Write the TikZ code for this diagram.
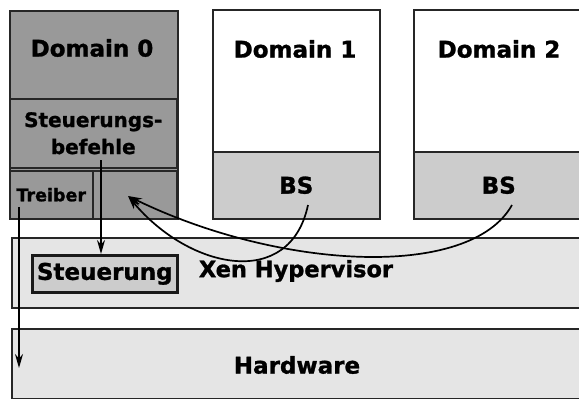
\documentclass[tikz,border=0pt]{standalone}
\usepackage{fontspec}
\setmainfont[BoldFeatures={FakeBold=1.2}]{DejaVu Sans}
\usetikzlibrary{arrows.meta}
\begin{document}
\begin{tikzpicture}[x=1pt,y=-1pt,
  box/.style={draw=black!85,line width=1.5pt,inner sep=0pt,anchor=north west},
  gross/.style={font=\bfseries\fontsize{23}{27}\selectfont},
  pfeil/.style={line width=1.7pt,-{Stealth[length=14pt,width=8pt]}}]
  \useasboundingbox (0,0) rectangle (579,399);

  % domain 0
  \node[box,fill=black!40,line width=1.9pt,minimum width=168,minimum height=208] (d0) at (9,10) {};
  \node[box,fill=black!40,minimum width=167,minimum height=69,
        font=\bfseries\fontsize{20}{27}\selectfont,align=center] (sb) at (9,98) {Steuerungs-\\befehle};
  \node[box,fill=black!40,minimum width=83,minimum height=48,
        font=\bfseries\fontsize{17.5}{20}\selectfont] (tr) at (9,170) {Treiber};
  \node[box,fill=black!40,minimum width=84,minimum height=48] (frei) at (92,170) {};
  \node[gross] (t0) at (92,48) {Domain 0};

  % domain 1 and 2
  \node[box,fill=white,minimum width=167,minimum height=209] (d1) at (212,9) {};
  \node[box,fill=black!20,minimum width=167,minimum height=67,gross] (bs1) at (212,151) {BS};
  \node[gross] (t1) at (295,49) {Domain 1};

  \node[box,fill=white,minimum width=170,minimum height=209] (d2) at (413,9) {};
  \node[box,fill=black!20,minimum width=170,minimum height=67,gross] (bs2) at (413,151) {BS};
  \node[gross] (t2) at (499,49) {Domain 2};

  % hypervisor
  \node[box,fill=black!10,minimum width=580,minimum height=70] (xen) at (11,237) {};
  \node[box,fill=black!20,draw=black!90,line width=2.6pt,minimum width=145,minimum height=37,gross] (st) at (31,254) {Steuerung};
  \node[font=\bfseries\fontsize{22.5}{26}\selectfont] (tx) at (296,271) {Xen Hypervisor};

  % hardware
  \node[box,fill=black!10,minimum width=580,minimum height=70] (hw) at (11,328) {};
  \node[gross] (th) at (297,365) {Hardware};

  % arrows
  \coordinate (sbfuss) at (101,160);
  \coordinate (trfuss) at (19,207);
  \coordinate (hwziel) at (19,368);
  \coordinate (bs1fuss) at (308,205);
  \coordinate (bs2fuss) at (512,205);
  \coordinate (ziel) at (128,196);

  \draw[pfeil] (sbfuss) -- (sbfuss |- st.north);
  \draw[pfeil] (trfuss) -- (hwziel);
  \draw[pfeil] (bs1fuss) .. controls (290,290) and (190,270) .. (ziel);
  \draw[pfeil] (bs2fuss) .. controls (470,280) and (280,270) .. (ziel);
\end{tikzpicture}
\end{document}
